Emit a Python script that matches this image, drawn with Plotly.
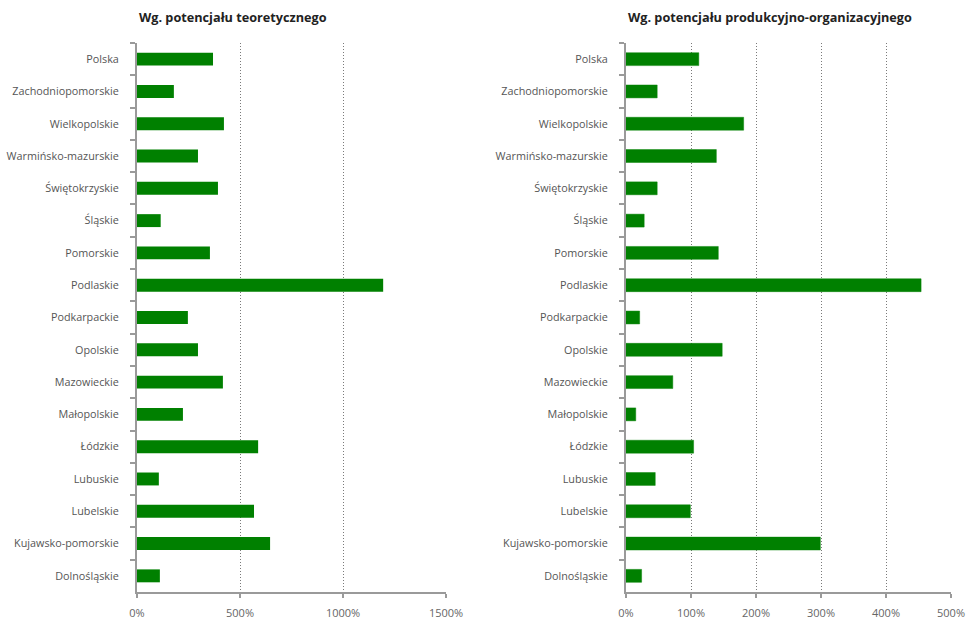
import plotly.graph_objects as go

regions = [
    "Polska", "Zachodniopomorskie", "Wielkopolskie", "Warmińsko-mazurskie",
    "Świętokrzyskie", "Śląskie", "Pomorskie", "Podlaskie", "Podkarpackie",
    "Opolskie", "Mazowieckie", "Małopolskie", "Łódzkie", "Lubuskie",
    "Lubelskie", "Kujawsko-pomorskie", "Dolnośląskie",
]
theoretical = [369, 179, 422, 296, 393, 115, 354, 1195, 247, 296, 417, 223, 588, 106, 568, 646, 111]
production = [112, 48, 181, 139, 48, 28, 142, 454, 21, 148, 72, 15, 104, 45, 99, 299, 24]

ticks_left = [0, 500, 1000, 1500]
ticks_right = [0, 100, 200, 300, 400, 500]

title_left = "Wg. potencjału teoretycznego"
title_right = "Wg. potencjału produkcyjno-organizacyjnego"

W, H = 966, 619
FONT = "Open Sans"
GREEN = "#008000"
AXIS_GREY = "#9a9a9a"

fig = go.Figure()

fig.add_trace(go.Bar(
    x=theoretical, y=regions, orientation="h",
    marker=dict(color=GREEN, line=dict(width=0)),
    xaxis="x", yaxis="y", showlegend=False, hoverinfo="x+y",
))
fig.add_trace(go.Bar(
    x=production, y=regions, orientation="h",
    marker=dict(color=GREEN, line=dict(width=1, color="rgba(0,128,0,0.45)")),
    xaxis="x2", yaxis="y2", showlegend=False, hoverinfo="x+y",
))

ydom = [1 - 592 / H, 1 - 43 / H]
left_dom = [137 / W, 446 / W]
right_dom = [626 / W, 951 / W]

xcommon = dict(
    showgrid=True, gridcolor="#7a7a7a", griddash="1px,2px", gridwidth=1,
    showline=True, linecolor=AXIS_GREY, linewidth=1.5,
    ticks="outside", ticklen=4, tickcolor=AXIS_GREY, tickwidth=1.5,
    zeroline=False, automargin=False,
    tickfont=dict(family=FONT, size=11, color="#666666"),
    ticklabelstandoff=6, fixedrange=True,
)
ycommon = dict(
    showline=True, linecolor=AXIS_GREY, linewidth=2,
    ticks="outside", ticklen=5, tickcolor=AXIS_GREY, tickwidth=1.5,
    tickson="boundaries", showgrid=False, automargin=False,
    categoryorder="array", categoryarray=regions, autorange="reversed",
    tickfont=dict(family=FONT, size=10.8, color="#555555"),
    ticklabelstandoff=14, fixedrange=True,
)

fig.update_layout(
    width=W, height=H,
    margin=dict(l=0, r=0, t=0, b=0),
    paper_bgcolor="white", plot_bgcolor="white",
    bargap=0.6,
    font=dict(family=FONT, color="#555555"),
    xaxis=dict(domain=left_dom, anchor="y", range=[0, 1500],
               tickvals=ticks_left, ticktext=[f"{v}%" for v in ticks_left], **xcommon),
    yaxis=dict(domain=ydom, anchor="x", **ycommon),
    xaxis2=dict(domain=right_dom, anchor="y2", range=[0, 500],
                tickvals=ticks_right, ticktext=[f"{v}%" for v in ticks_right], **xcommon),
    yaxis2=dict(domain=ydom, anchor="x2", **ycommon),
)

for text, dom in ((title_left, left_dom), (title_right, right_dom)):
    fig.add_annotation(
        text=f"<b>{text}</b>", xref="paper", yref="paper",
        x=dom[0], y=1 - 17 / H, xanchor="left", yanchor="middle",
        showarrow=False, font=dict(family=FONT, size=12.7, color="#222222"),
    )

fig.write_html("out.html")
